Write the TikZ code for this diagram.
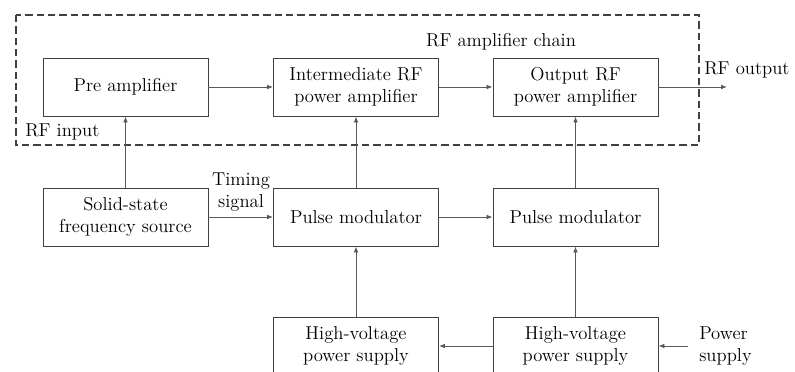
\documentclass[tikz,border=0pt]{standalone}
\usetikzlibrary{arrows.meta}
\begin{document}
\begin{tikzpicture}[x=0.75pt,y=-0.75pt,
  blk/.style={draw=black!75,line width=0.7pt,minimum width=123.75pt,minimum height=43.5pt,align=center,inner sep=0pt,font=\fontsize{14}{16.5}\selectfont},
  lbl/.style={font=\fontsize{14}{16.5}\selectfont,inner sep=0pt},
  conn/.style={draw=black!65,line width=0.6pt,-{Latex[length=4.5pt,width=3.5pt]}}]
\useasboundingbox[clip] (0,0) rectangle (795,371);
\fill[white] (0,0) rectangle (795,371);
\draw[black!75,line width=0.8pt,dash pattern=on 5.5pt off 3pt] (16,15) rectangle (699,145);
\node[blk] (pre) at (125.5,87) {Pre amplifier};
\node[blk] (inter) at (356,87) {Intermediate RF\\power amplifier};
\node[blk] (outrf) at (575.5,87) {Output RF\\power amplifier};
\node[blk] (src) at (125.5,217) {Solid-state\\frequency source};
\node[blk] (pm1) at (356,217) {Pulse modulator};
\node[blk] (pm2) at (575.5,217) {Pulse modulator};
\node[blk] (hv1) at (356,346) {High-voltage\\power supply};
\node[blk] (hv2) at (575.5,346) {High-voltage\\power supply};
\node[lbl] (chain) at (501,42) {RF amplifier chain};
\node[lbl,anchor=west] (rfin) at (25,132) {RF input};
\node[lbl,anchor=west] (rfout) at (704,70) {RF output};
\node[lbl,align=center] (timing) at (241,192) {Timing\\signal};
\node[lbl,align=left,anchor=west] (psl) at (699,346) {Power\\supply};
\coordinate (outend) at (727,87);
\coordinate (psstart) at (688,346);
\draw[conn] (pre) -- (inter);
\draw[conn] (inter) -- (outrf);
\draw[conn] (outrf) -- (outend);
\draw[conn] (src) -- (pre);
\draw[conn] (pm1) -- (inter);
\draw[conn] (pm2) -- (outrf);
\draw[conn] (src) -- (pm1);
\draw[conn] (pm1) -- (pm2);
\draw[conn] (hv1) -- (pm1);
\draw[conn] (hv2) -- (pm2);
\draw[conn] (hv2) -- (hv1);
\draw[conn] (psstart) -- (hv2);
\end{tikzpicture}
\end{document}
